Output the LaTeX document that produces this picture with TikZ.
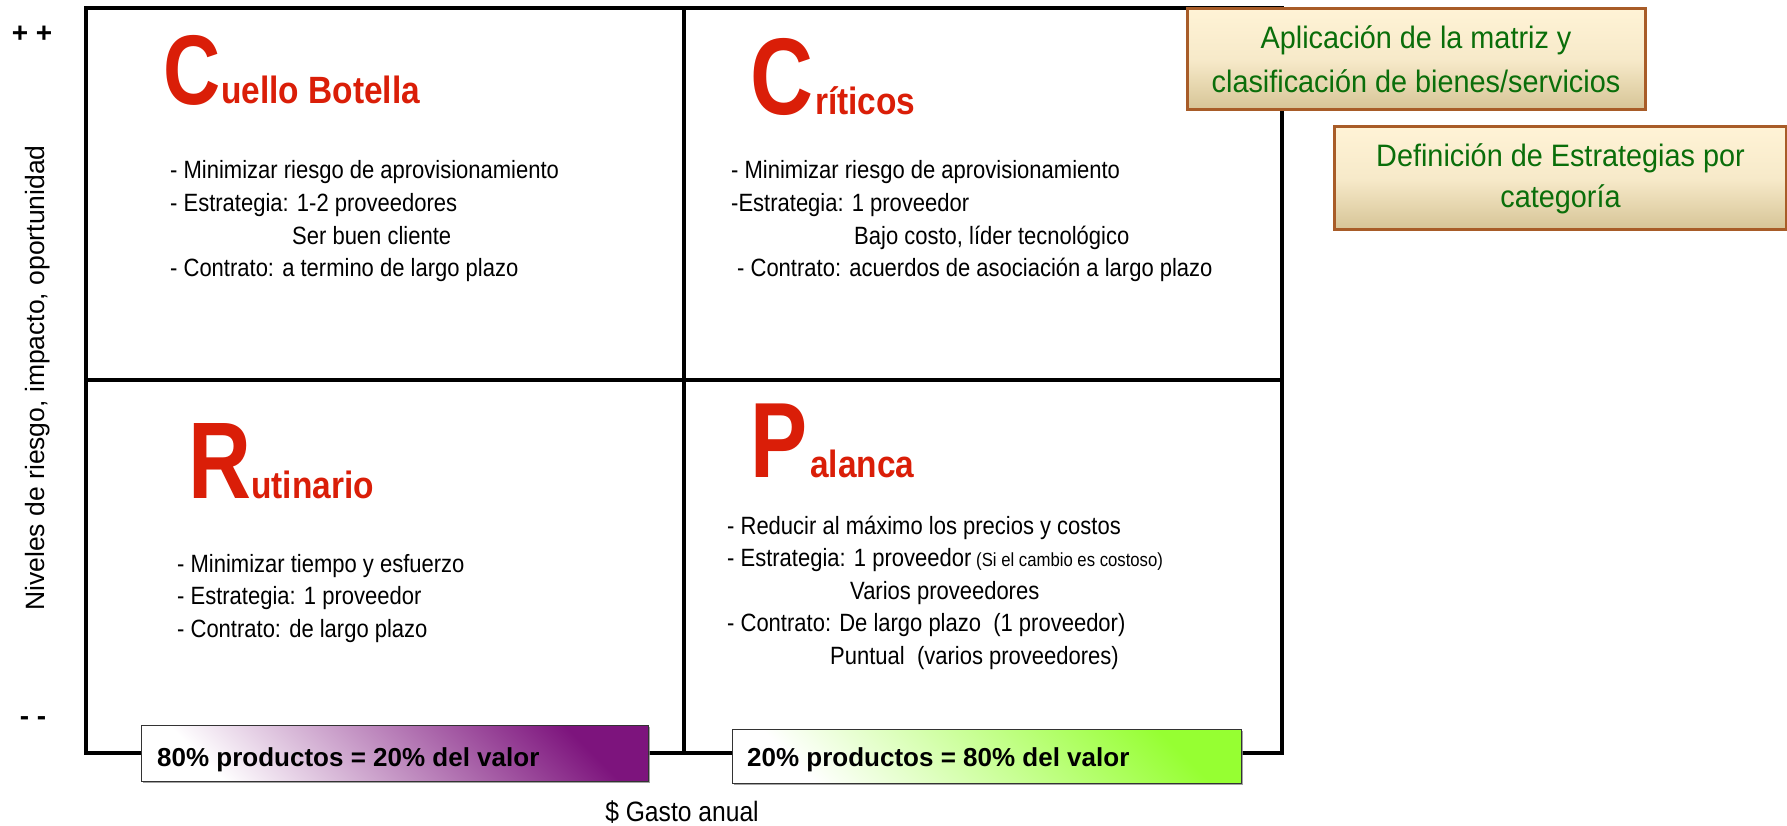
\documentclass[tikz,border=0pt]{standalone}
\usepackage{fontspec}
\setmainfont{Liberation Sans}
\newfontfamily\narrowf{Liberation Sans}[FakeStretch=0.88]
\newfontfamily\bigf{Liberation Sans}[FakeStretch=0.8]
\newfontfamily\boxf{Liberation Sans}[FakeStretch=0.93]
\usetikzlibrary{shadows}
\definecolor{titlered}{RGB}{218,30,8}
\definecolor{boxgreen}{RGB}{10,110,10}
\definecolor{boxbrown}{RGB}{168,92,40}
\definecolor{cream}{RGB}{255,243,214}
\definecolor{tan}{RGB}{214,196,150}
\definecolor{purp}{RGB}{125,20,125}
\definecolor{lime}{RGB}{150,255,50}
\begin{document}
\begin{tikzpicture}[x=1pt,y=-1pt,
  frame/.style={line width=4.5pt, black},
  body/.style={anchor=base west, inner sep=0pt, font=\narrowf\fontsize{25}{30}\selectfont},
  smallbody/.style={anchor=base west, inner sep=0pt, font=\narrowf\fontsize{19}{22}\selectfont},
  bigl/.style={anchor=base west, inner sep=0pt, text=titlered, font=\bigf\bfseries\fontsize{#1}{#1}\selectfont},
  titl/.style={anchor=base west, inner sep=0pt, text=titlered, font=\narrowf\bfseries\fontsize{38}{38}\selectfont},
  rbox/.style={draw=boxbrown, line width=3pt, top color=cream, bottom color=tan, middle color=cream!80!tan,
    text=boxgreen, align=center, inner sep=0pt},
  bbox/.style={draw=black!80, line width=1pt, inner sep=0pt,
    drop shadow={shadow xshift=1.5pt, shadow yshift=-2pt, fill=black!45, opacity=0.8}},
  btext/.style={anchor=base west, inner sep=0pt, font=\bfseries\fontsize{26}{30}\selectfont},
  axis/.style={inner sep=0pt, font=\fontsize{26.5}{30}\selectfont}
]
\useasboundingbox (0,0) rectangle (1787,826);
\fill[white] (0,0) rectangle (1787,826);

% matrix frame
\coordinate (tl) at (86,8);
\coordinate (br) at (1282,753);
\coordinate (mt) at (684,8);
\coordinate (mb) at (684,753);
\coordinate (ml) at (86,380);
\coordinate (mr) at (1282,380);
\draw[frame] (tl) rectangle (br);
\draw[frame] (mt) -- (mb);
\draw[frame] (ml) -- (mr);

% axis labels
\node[axis, font=\bfseries\fontsize{28}{30}\selectfont] (pp) at (32,34) {+ +};
\node[axis, font=\bfseries\fontsize{28}{30}\selectfont] (mm) at (33,721) {- -};
\node[axis, rotate=90] (ylab) at (38,378) {Niveles de riesgo, impacto, oportunidad};
\node[anchor=base, inner sep=0pt, font=\narrowf\fontsize{28}{30}\selectfont] (xlab) at (682,821) {\$ Gasto anual};

% Q1 Cuello Botella
\node[bigl=99] (c1) at (163,105) {C};
\node[titl] (c1t) at (221,104) {uello Botella};
\node[body] (q1a) at (170,179) {- Minimizar riesgo de aprovisionamiento};
\node[body] (q1b) at (170,211.5) {- Estrategia: 1-2 proveedores};
\node[body] (q1c) at (292,244) {Ser buen cliente};
\node[body] (q1d) at (170,276.5) {- Contrato: a termino de largo plazo};

% Q2 Criticos
\node[bigl=109] (c2) at (750,115) {C};
\node[titl] (c2t) at (815,115) {ríticos};
\node[body] (q2a) at (731,179) {- Minimizar riesgo de aprovisionamiento};
\node[body] (q2b) at (731,211.5) {-Estrategia: 1 proveedor};
\node[body] (q2c) at (854,244) {Bajo costo, líder tecnológico};
\node[body] (q2d) at (737,276.5) {- Contrato: acuerdos de asociación a largo plazo};

% Q3 Rutinario
\node[bigl=109] (r3) at (188,498) {R};
\node[titl] (r3t) at (251,498) {utinario};
\node[body] (q3a) at (177,572) {- Minimizar tiempo y esfuerzo};
\node[body] (q3b) at (177,604.5) {- Estrategia: 1 proveedor};
\node[body] (q3c) at (177,637) {- Contrato: de largo plazo};

% Q4 Palanca
\node[bigl=107] (p4) at (750,477) {P};
\node[titl] (p4t) at (810,477) {alanca};
\node[body] (q4a) at (727,534) {- Reducir al máximo los precios y costos};
\node[body] (q4b) at (727,566.5) {- Estrategia: 1 proveedor};
\node[smallbody] (q4s) at (976,566.5) {(Si el cambio es costoso)};
\node[body] (q4c) at (850,599) {Varios proveedores};
\node[body] (q4d) at (727,631.5) {- Contrato: De largo plazo \ (1 proveedor)};
\node[body] (q4e) at (830,664) {Puntual \ (varios proveedores)};

% right boxes
\node[rbox, minimum width=458pt, minimum height=101pt, font=\boxf\fontsize{31}{44}\selectfont]
  (b1) at (1416,59.5) {Aplicación de la matriz y\\clasificación de bienes/servicios};
\node[rbox, minimum width=452pt, minimum height=103pt, font=\boxf\fontsize{31}{41}\selectfont]
  (b2) at (1560.5,178.5) {Definición de Estrategias por\\categoría};

% bottom boxes
\node[bbox, minimum width=507pt, minimum height=56pt, top color=purp, bottom color=white, shading angle=-45]
  (pb) at (394.5,753) {};
\node[btext] (ptx) at (157,766) {80\% productos = 20\% del valor};
\node[bbox, minimum width=509pt, minimum height=54pt, top color=lime, bottom color=white, shading angle=-45]
  (gb) at (986.5,756) {};
\node[btext] (gtx) at (747,766) {20\% productos = 80\% del valor};
\end{tikzpicture}
\end{document}
